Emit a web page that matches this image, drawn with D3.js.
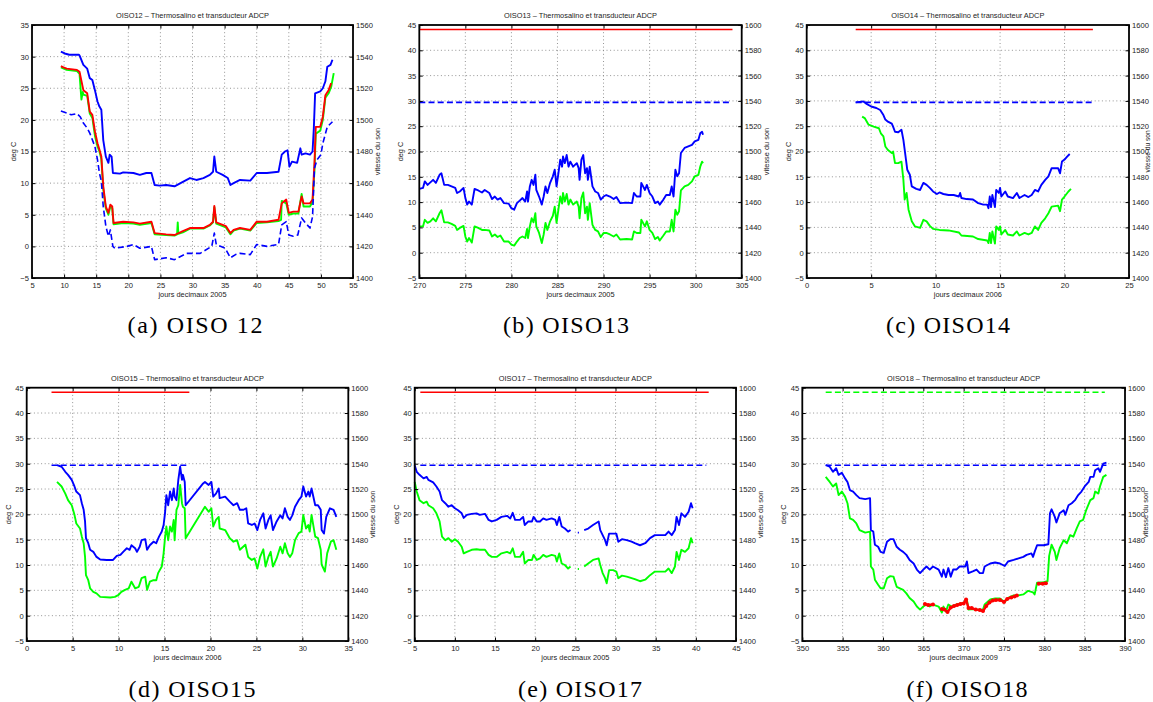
<!DOCTYPE html>
<html><head><meta charset="utf-8">
<script src="https://cdn.jsdelivr.net/npm/d3@7"></script>
<style>
body{margin:0;background:#fff}
svg{display:block}
</style>
</head><body>
<svg id="chart" width="1153" height="702"></svg>
<script>
// ---------------- DATA (deg C vs jours decimaux) ----------------
const panelNames = ["OISO12","OISO13","OISO14","OISO15","OISO17","OISO18"];
const captions = ["(a) OISO 12","(b) OISO13","(c) OISO14","(d) OISO15","(e) OISO17","(f) OISO18"];
const xLabels = ["jours decimaux 2005","jours decimaux 2005","jours decimaux 2006","jours decimaux 2006","jours decimaux 2005","jours decimaux 2009"];
const titleSuffix = " \u2013 Thermosalino et transducteur ADCP";
const yLabelLeft = "deg C";
const yLabelRight = "vitesse du son";

const xTicks12 = [5,10,15,20,25,30,35,40,45,50,55];
const xTicks13 = [270,275,280,285,290,295,300,305];
const xTicks14 = [0,5,10,15,20,25];
const xTicks15 = [0,5,10,15,20,25,30,35];
const xTicks17 = [5,10,15,20,25,30,35,40,45];
const xTicks18 = [350,355,360,365,370,375,380,385,390];
const yTicksShort = [-5,0,5,10,15,20,25,30,35];
const yTicksLong = [-5,0,5,10,15,20,25,30,35,40,45];
const y2TicksShort = [1400,1420,1440,1460,1480,1500,1520,1540,1560];
const y2TicksLong = [1400,1420,1440,1460,1480,1500,1520,1540,1560,1580,1600];

// OISO12
const oiso12_blue = [[9.5,30.8],[10.1,30.5],[10.8,30.3],[12.3,30.3],[12.4,30.2],[13.0,28.7],[13.6,28.1],[14.0,26.6],[14.4,26.3],[14.8,24.7],[15.2,22.9],[15.5,22.1],[15.8,21.6],[16.1,16.8],[16.5,14.2],[16.9,13.2],[17.1,14.5],[17.4,14.2],[17.6,11.6],[18.7,11.5],[19.2,11.7],[20.8,11.6],[21.8,11.3],[22.8,11.6],[23.6,11.6],[24.1,9.7],[24.9,9.6],[25.9,9.7],[27.2,9.5],[28.5,10.2],[29.6,10.8],[30.6,10.5],[31.7,10.8],[32.7,11.3],[33.2,11.8],[33.4,14.2],[33.7,11.8],[34.7,11.3],[35.5,10.8],[35.9,9.7],[36.4,10.0],[37.4,10.5],[39.0,10.4],[40.0,11.6],[41.6,11.6],[43.4,11.8],[43.9,14.5],[44.4,15.0],[44.8,15.2],[45.1,12.6],[45.5,13.4],[46.3,13.2],[46.8,15.5],[47.0,14.5],[47.6,14.7],[48.3,14.5],[48.7,15.0],[48.9,18.7],[49.1,24.2],[49.9,24.5],[50.3,25.0],[50.7,26.1],[51.0,28.4],[51.5,28.7],[51.8,29.5]];
const oiso12_red = [[9.5,28.5],[9.9,28.3],[10.4,28.1],[12.0,27.9],[12.4,27.6],[13.0,24.7],[13.6,24.2],[14.0,21.3],[14.4,20.8],[14.8,18.2],[15.2,16.3],[15.5,15.3],[15.8,14.2],[16.1,9.5],[16.5,6.3],[16.9,5.3],[17.2,6.6],[17.5,6.3],[17.7,3.7],[19.2,3.9],[20.8,3.8],[21.8,3.6],[23.6,3.9],[24.1,2.1],[25.9,1.9],[27.2,1.8],[28.5,2.4],[29.6,2.9],[31.7,2.9],[32.7,3.4],[33.2,3.9],[33.4,6.4],[33.7,3.8],[35.2,3.2],[35.9,2.1],[36.4,2.6],[37.4,2.9],[39.0,2.6],[40.0,3.9],[41.6,3.9],[43.4,4.2],[43.9,6.8],[44.6,7.4],[45.0,5.3],[45.7,5.5],[46.5,5.5],[47.0,7.9],[47.3,6.8],[48.3,6.8],[48.7,7.4],[49.0,13.2],[49.2,18.9],[49.9,18.9],[50.3,20.5],[50.7,23.9],[51.2,24.7],[51.6,25.8]];
const oiso12_green = [[9.5,28.3],[10.4,27.9],[12.0,27.7],[12.4,27.3],[12.7,23.2],[12.9,24.4],[13.0,24.0],[13.6,23.8],[14.0,21.0],[14.4,20.3],[14.8,17.5],[15.2,15.8],[15.5,15.0],[15.8,13.8],[16.1,9.0],[16.5,6.0],[16.9,5.0],[17.2,6.3],[17.5,6.0],[17.7,3.5],[19.2,3.7],[20.8,3.6],[21.8,3.4],[23.6,3.7],[24.1,1.9],[25.9,1.8],[27.2,1.7],[27.6,1.9],[27.7,3.8],[27.8,2.0],[28.5,2.2],[29.6,2.8],[31.7,2.8],[32.7,3.3],[33.2,3.8],[33.4,6.2],[33.7,3.6],[35.2,3.0],[35.9,1.9],[36.4,2.5],[37.4,2.8],[39.0,2.5],[40.0,3.7],[41.6,3.8],[43.4,4.0],[43.8,4.2],[43.9,7.2],[44.6,6.8],[45.0,5.0],[45.7,5.2],[46.5,5.2],[47.0,8.3],[47.3,6.3],[48.3,6.3],[48.7,7.0],[49.0,12.0],[49.2,17.8],[49.9,18.3],[50.3,20.0],[50.7,23.5],[51.2,24.2],[51.6,25.2],[52.0,27.4]];
const oiso12_blueDashed = [[9.5,21.4],[10.4,21.1],[11.1,20.8],[12.0,21.0],[12.5,20.5],[13.0,19.5],[13.6,18.7],[14.0,17.9],[14.8,15.8],[15.2,13.7],[15.5,11.6],[15.8,10.3],[16.1,6.3],[16.5,3.2],[16.9,1.6],[17.2,2.6],[17.6,0.0],[17.9,-0.3],[19.8,0.0],[20.8,0.3],[21.8,-0.3],[23.6,0.0],[24.1,-2.1],[25.9,-1.8],[27.2,-2.1],[29.1,-1.1],[31.2,-1.1],[33.0,0.0],[33.4,2.1],[33.7,0.3],[35.1,-0.3],[35.9,-1.8],[36.7,-1.3],[37.4,-1.1],[39.0,-1.3],[40.0,0.3],[41.6,0.0],[43.4,0.3],[43.9,3.4],[44.6,3.9],[45.0,1.8],[45.7,1.6],[46.4,1.8],[47.0,4.5],[47.6,3.7],[48.3,2.9],[48.7,4.7],[49.0,12.4],[49.4,13.7],[50.0,14.5],[50.3,16.3],[51.0,18.9],[51.8,19.7]];

// OISO13
const oiso13_blue = [[270.0,12.6],[270.4,12.8],[270.6,14.1],[270.9,13.4],[271.2,13.9],[271.5,14.4],[271.8,13.8],[272.2,15.4],[272.4,15.7],[272.7,13.4],[273.1,13.4],[273.5,13.1],[273.9,12.8],[274.1,11.8],[274.4,12.1],[274.8,12.8],[275.0,10.8],[275.2,9.5],[275.4,10.1],[275.7,9.5],[276.0,12.6],[276.4,12.3],[276.8,11.9],[277.1,12.4],[277.6,11.8],[277.9,10.6],[278.2,11.1],[278.5,10.5],[278.8,10.8],[279.2,9.8],[279.7,9.7],[280.0,8.8],[280.3,8.5],[280.6,9.8],[280.9,10.3],[281.2,10.8],[281.5,10.1],[281.7,12.1],[281.8,10.1],[282.0,13.1],[282.2,14.4],[282.4,13.4],[282.6,15.4],[282.7,12.4],[283.0,11.1],[283.3,9.5],[283.5,11.1],[283.7,13.1],[283.9,11.8],[284.2,13.8],[284.5,15.1],[284.7,16.4],[284.9,13.1],[285.1,15.7],[285.3,18.4],[285.5,17.0],[285.6,19.0],[285.8,17.7],[286.0,19.3],[286.2,17.0],[286.4,18.0],[286.7,17.0],[287.1,17.7],[287.3,16.7],[287.4,14.4],[287.6,18.4],[287.8,19.3],[288.0,15.7],[288.2,16.7],[288.3,14.4],[288.5,17.0],[288.8,13.1],[289.1,12.1],[289.4,11.8],[289.7,10.5],[290.0,11.1],[290.3,11.4],[290.7,11.1],[291.1,10.6],[291.4,11.0],[291.8,9.8],[292.5,9.9],[293.1,9.8],[293.3,11.8],[293.6,11.1],[294.0,11.1],[294.1,13.8],[294.5,12.4],[294.7,13.4],[295.0,11.8],[295.3,11.1],[295.6,9.8],[295.9,10.1],[296.1,9.5],[296.5,10.5],[296.8,11.4],[297.2,11.4],[297.4,13.1],[297.6,11.1],[297.8,16.4],[298.0,15.1],[298.2,15.7],[298.4,19.7],[298.8,20.7],[299.2,21.0],[299.6,21.3],[299.9,22.0],[300.3,22.3],[300.5,23.6],[300.7,23.9],[300.8,23.3]];
const oiso13_green = [[270.0,5.2],[270.4,5.2],[270.6,6.5],[270.9,5.9],[271.2,6.2],[271.5,6.8],[271.8,6.2],[272.2,7.8],[272.4,8.4],[272.7,6.0],[273.1,6.0],[273.5,5.7],[273.9,5.3],[274.1,4.5],[274.4,4.9],[274.8,5.3],[275.0,3.2],[275.2,2.2],[275.4,2.9],[275.7,2.0],[276.0,5.2],[276.4,4.9],[276.8,4.5],[277.1,4.5],[277.6,4.4],[277.9,3.2],[278.2,3.6],[278.5,3.1],[278.8,3.4],[279.2,2.2],[279.7,2.2],[280.0,1.6],[280.3,1.4],[280.6,2.2],[280.9,2.9],[281.2,3.2],[281.5,2.9],[281.7,4.7],[281.8,2.9],[282.0,5.2],[282.2,6.8],[282.4,6.0],[282.6,7.8],[282.7,5.2],[283.0,3.9],[283.3,1.9],[283.5,3.6],[283.7,5.9],[283.9,4.5],[284.2,6.2],[284.5,7.3],[284.7,9.1],[284.9,5.9],[285.1,8.5],[285.3,11.1],[285.5,9.7],[285.6,11.8],[285.8,10.1],[286.0,11.6],[286.2,9.5],[286.4,10.5],[286.7,9.5],[287.1,10.1],[287.3,9.1],[287.4,6.8],[287.6,10.8],[287.8,11.9],[288.0,7.8],[288.2,9.1],[288.3,6.5],[288.5,9.8],[288.8,5.5],[289.1,4.5],[289.4,4.2],[289.7,3.1],[290.0,3.9],[290.3,3.9],[290.7,3.6],[291.1,3.2],[291.4,3.6],[291.8,2.6],[292.5,2.7],[293.1,2.6],[293.3,4.2],[293.6,3.9],[294.0,3.9],[294.1,6.5],[294.5,5.2],[294.7,6.2],[295.0,4.5],[295.3,3.9],[295.6,2.7],[295.9,3.1],[296.1,2.4],[296.5,3.4],[296.8,4.2],[297.2,4.2],[297.4,6.5],[297.6,4.2],[297.8,8.5],[298.0,7.5],[298.2,8.2],[298.4,12.3],[298.8,13.1],[299.2,13.4],[299.6,14.1],[299.9,15.1],[300.3,15.4],[300.5,17.0],[300.7,18.0],[300.8,17.7]];
const oiso13_blueDashed = [[270.0,29.7],[303.8,29.7]];
const oiso13_red = [[270.0,44.1],[304.0,44.1]];

// OISO14
const oiso14_blue = [[3.8,29.7],[4.4,29.9],[4.65,29.4],[5.0,28.9],[5.4,28.6],[5.7,28.2],[5.95,27.2],[6.1,26.3],[6.3,25.9],[6.6,25.5],[6.7,24.9],[6.85,23.9],[7.1,23.8],[7.35,24.3],[7.5,22.3],[7.7,18.4],[7.8,16.4],[8.0,15.4],[8.15,13.1],[8.5,12.6],[8.8,12.4],[9.05,13.8],[9.3,13.4],[9.55,12.8],[9.8,12.1],[10.1,11.6],[10.3,11.9],[10.6,11.6],[11.0,11.4],[11.4,11.4],[11.8,11.1],[11.9,11.8],[12.0,10.8],[12.4,10.6],[12.9,10.5],[13.3,9.8],[13.7,9.5],[14.0,9.5],[14.1,8.8],[14.2,11.1],[14.3,9.0],[14.4,11.4],[14.6,9.0],[14.7,12.4],[14.9,11.8],[15.0,12.8],[15.1,11.1],[15.4,12.1],[15.6,11.1],[16.0,10.8],[16.3,11.8],[16.5,10.8],[16.9,11.4],[17.2,11.0],[17.45,11.4],[17.7,12.4],[17.95,12.1],[18.2,13.4],[18.5,14.4],[18.75,15.1],[19.0,16.7],[19.5,16.7],[19.65,15.7],[19.8,18.0],[20.0,18.4],[20.2,19.0],[20.4,19.5]];
const oiso14_green = [[4.3,26.9],[4.5,26.6],[4.8,25.3],[5.2,24.9],[5.6,24.6],[5.75,23.6],[5.95,23.0],[6.1,21.0],[6.3,20.3],[6.6,19.7],[6.7,20.0],[6.85,17.7],[7.1,17.7],[7.35,18.0],[7.5,14.4],[7.6,10.5],[7.75,11.8],[7.9,8.5],[8.15,6.2],[8.4,5.2],[8.8,4.9],[9.05,6.5],[9.3,6.2],[9.55,5.3],[9.8,4.7],[10.3,4.5],[11.0,4.4],[11.8,4.0],[12.0,3.4],[12.9,3.2],[13.3,2.7],[14.0,2.4],[14.1,1.9],[14.2,3.9],[14.3,1.9],[14.4,4.2],[14.6,1.8],[14.7,5.2],[14.9,4.5],[15.0,5.2],[15.1,3.6],[15.4,4.5],[15.6,3.6],[16.0,3.4],[16.3,4.2],[16.5,3.4],[16.9,3.9],[17.2,3.6],[17.45,3.9],[17.7,5.2],[17.95,4.5],[18.2,5.9],[18.5,6.8],[18.75,7.8],[19.0,9.1],[19.5,9.3],[19.65,8.2],[19.8,10.5],[20.0,11.1],[20.3,12.1],[20.5,12.6]];
const oiso14_blueDashed = [[3.8,29.7],[22.1,29.7]];
const oiso14_red = [[3.8,44.1],[22.2,44.1]];

// OISO15
const oiso15_blue = [[3.3,29.7],[3.8,29.4],[4.2,28.4],[4.5,27.8],[4.9,26.8],[5.2,25.5],[5.4,24.5],[5.8,23.8],[6.0,22.2],[6.2,20.9],[6.35,18.6],[6.45,15.3],[6.7,14.3],[6.9,13.0],[7.25,12.6],[7.6,11.6],[8.0,11.1],[8.7,11.0],[9.4,11.0],[9.8,11.8],[10.2,12.0],[10.5,12.6],[10.9,13.3],[11.2,13.0],[11.4,13.9],[11.8,13.3],[12.0,12.6],[12.3,13.6],[12.5,14.9],[12.9,15.1],[13.1,13.0],[13.4,13.9],[13.8,14.6],[14.1,14.3],[14.4,15.6],[14.7,16.6],[14.9,17.9],[15.05,20.2],[15.2,23.8],[15.4,21.8],[15.6,24.5],[15.8,22.8],[16.0,25.1],[16.1,23.5],[16.3,22.8],[16.5,26.8],[16.7,29.4],[16.9,26.8],[17.0,27.8],[17.2,26.4],[17.3,21.8],[19.2,26.1],[19.4,26.4],[19.8,25.8],[20.1,26.4],[20.3,23.5],[20.6,24.1],[20.9,25.1],[21.0,23.2],[21.6,23.5],[22.1,22.5],[22.5,21.8],[22.9,22.2],[23.2,20.9],[23.6,20.9],[23.9,21.2],[24.1,18.2],[24.5,17.9],[24.8,18.2],[25.1,16.9],[25.4,18.9],[25.75,20.2],[26.0,17.2],[26.3,18.9],[26.55,19.8],[26.8,16.9],[27.2,18.6],[27.6,19.8],[27.85,19.2],[28.1,21.2],[28.4,19.5],[28.65,18.9],[28.9,19.8],[29.2,21.5],[29.6,22.8],[29.9,23.5],[30.1,25.5],[30.4,23.5],[30.65,24.5],[30.8,23.5],[31.0,25.1],[31.4,21.8],[31.7,21.8],[32.0,20.9],[32.1,16.9],[32.35,16.2],[32.6,19.5],[33.0,21.2],[33.4,20.9],[33.7,19.5]];
const oiso15_green = [[3.3,26.4],[3.8,25.5],[4.2,24.1],[4.5,22.8],[4.9,21.8],[5.2,19.9],[5.4,18.2],[5.8,17.2],[6.0,15.6],[6.2,14.3],[6.35,11.6],[6.45,8.0],[6.7,7.0],[6.9,5.4],[7.25,4.7],[7.6,4.4],[8.0,3.7],[9.1,3.6],[9.6,3.7],[10.0,4.1],[10.3,4.7],[10.7,5.1],[11.1,5.4],[11.4,6.7],[11.8,5.4],[12.2,5.7],[12.5,7.4],[12.9,7.7],[13.1,5.1],[13.4,6.7],[13.8,7.0],[14.1,7.0],[14.3,8.4],[14.7,9.7],[14.9,12.3],[15.05,15.3],[15.2,17.6],[15.4,14.9],[15.6,17.6],[15.8,16.6],[16.0,18.9],[16.1,14.9],[16.3,20.9],[16.5,21.8],[16.7,25.8],[16.9,22.2],[17.0,21.5],[17.2,21.2],[17.3,15.3],[19.4,21.5],[19.8,20.5],[20.1,21.2],[20.3,17.6],[20.6,18.9],[20.9,19.5],[21.0,17.2],[21.6,16.9],[22.1,15.3],[22.5,14.6],[22.9,14.9],[23.2,13.0],[23.8,14.0],[24.1,11.6],[24.5,11.0],[24.8,11.3],[25.1,9.3],[25.4,11.6],[25.75,13.1],[26.0,9.7],[26.3,11.6],[26.55,12.6],[26.8,9.7],[27.2,11.3],[27.6,13.6],[27.85,12.3],[28.1,14.3],[28.4,12.3],[28.65,11.6],[28.9,12.3],[29.2,14.9],[29.6,16.3],[29.9,16.6],[30.1,19.9],[30.4,17.2],[30.65,17.9],[30.8,16.6],[31.0,19.9],[31.4,15.6],[31.7,15.3],[32.0,13.0],[32.1,10.1],[32.45,8.7],[32.7,12.3],[33.1,14.6],[33.4,14.9],[33.7,13.0]];
const oiso15_blueDashed = [[2.7,29.7],[17.5,29.7]];
const oiso15_red = [[2.7,44.1],[17.7,44.1]];

// OISO17 (null = data gap)
const oiso17_blue = [[5.0,29.7],[5.25,28.4],[5.6,27.8],[6.1,27.1],[6.5,27.4],[6.7,26.8],[7.3,26.3],[7.7,25.5],[8.1,24.5],[8.4,22.8],[8.8,22.2],[9.2,21.5],[9.6,21.8],[10.0,21.2],[10.4,20.8],[10.85,20.2],[11.1,19.3],[11.5,19.9],[12.1,20.1],[12.7,20.2],[13.1,19.9],[13.75,20.1],[14.2,18.9],[14.6,18.6],[15.2,18.9],[15.8,19.5],[16.5,19.7],[16.9,19.2],[17.2,20.3],[17.5,18.9],[18.1,18.9],[18.5,19.5],[18.7,17.9],[19.15,18.6],[19.6,18.6],[19.8,19.5],[20.2,18.6],[20.6,18.6],[21.0,19.2],[21.4,18.9],[22.05,19.2],[22.5,18.9],[22.7,17.9],[23.0,19.5],[23.3,17.6],[23.7,17.2],[24.1,16.6],[24.4,16.9],[24.5,null],[25.3,16.4],[25.45,16.4],[25.6,null],[26.1,16.9],[26.6,17.2],[27.2,17.9],[27.9,18.6],[28.1,16.9],[28.4,15.9],[28.7,14.9],[28.9,13.9],[29.2,16.2],[29.7,16.2],[30.1,16.2],[30.35,14.6],[30.8,15.1],[31.4,14.9],[32.0,14.6],[32.4,14.3],[33.05,13.9],[33.7,14.3],[34.3,15.3],[34.9,15.9],[35.5,15.9],[36.2,15.9],[36.6,16.6],[37.0,15.9],[37.4,16.9],[37.6,19.5],[37.9,17.9],[38.2,20.2],[38.65,19.5],[39.1,20.5],[39.4,22.2],[39.6,21.2]];
const oiso17_green = [[5.0,26.4],[5.25,24.5],[5.6,22.8],[6.1,22.2],[6.5,22.5],[6.7,21.8],[7.3,21.2],[7.7,20.2],[8.1,18.6],[8.4,15.6],[8.8,14.9],[9.2,15.3],[9.6,14.6],[10.0,15.1],[10.4,14.6],[10.85,13.6],[11.1,12.3],[11.5,12.6],[12.1,13.0],[12.7,13.1],[13.1,13.0],[13.75,13.0],[14.2,12.0],[14.6,11.6],[15.2,11.6],[15.8,12.3],[16.5,12.6],[16.9,12.3],[17.2,13.3],[17.5,11.6],[18.1,11.6],[18.5,12.6],[18.7,10.3],[19.15,11.0],[19.6,11.0],[19.8,12.0],[20.2,11.0],[20.6,11.3],[21.0,12.0],[21.4,11.6],[22.05,12.0],[22.5,11.8],[22.7,10.7],[23.0,12.3],[23.3,10.3],[23.7,10.0],[24.1,9.3],[24.4,9.7],[24.5,null],[25.3,9.2],[25.45,9.2],[25.6,null],[26.1,9.7],[26.6,10.3],[27.2,11.0],[27.9,11.3],[28.1,10.0],[28.4,8.4],[28.7,7.4],[28.9,6.4],[29.2,9.0],[29.7,9.0],[30.1,8.7],[30.35,7.4],[30.8,7.9],[31.4,7.7],[32.0,7.4],[32.4,7.2],[33.05,6.8],[33.7,7.1],[34.3,8.0],[34.9,8.7],[35.5,8.7],[36.2,8.7],[36.6,9.3],[37.0,8.4],[37.4,9.7],[37.6,12.6],[37.9,11.0],[38.2,13.0],[38.65,12.6],[39.1,13.3],[39.4,15.3],[39.6,14.3]];
const oiso17_blueDashed = [[5.7,29.7],[41.3,29.7]];
const oiso17_red = [[5.7,44.1],[41.6,44.1]];

// OISO18
const oiso18_blue = [[352.9,29.7],[353.4,29.4],[353.8,28.4],[354.2,29.1],[354.5,27.8],[354.9,28.2],[355.3,27.1],[355.6,26.4],[355.9,24.8],[356.3,24.5],[356.7,23.8],[357.1,23.2],[357.8,23.0],[358.4,23.2],[358.5,16.9],[358.8,16.6],[359.0,14.0],[359.4,13.6],[359.7,12.6],[360.1,12.4],[360.5,14.6],[360.9,15.1],[361.3,15.1],[361.7,13.6],[362.1,13.0],[362.5,12.6],[362.9,12.0],[363.3,11.0],[363.8,10.3],[364.2,9.1],[364.6,8.4],[365.0,9.1],[365.4,9.7],[365.8,9.1],[366.2,9.7],[366.9,9.1],[367.3,7.7],[367.5,9.1],[367.8,7.6],[368.1,9.4],[368.4,7.7],[368.7,9.1],[369.1,9.1],[369.5,9.7],[370.2,9.7],[370.4,10.7],[370.6,8.4],[371.2,8.8],[371.6,9.1],[372.0,8.4],[372.4,8.4],[372.6,9.7],[373.3,10.3],[373.9,10.5],[374.5,10.3],[375.1,9.8],[375.5,10.7],[376.2,11.0],[376.8,11.3],[377.4,11.6],[377.8,12.0],[378.4,12.3],[378.6,11.6],[378.8,12.6],[379.1,13.9],[379.9,13.9],[380.5,14.1],[380.7,20.2],[380.9,21.0],[381.3,19.5],[381.5,18.4],[381.9,20.2],[382.4,20.8],[382.6,19.9],[383.0,21.8],[383.4,22.2],[383.8,22.8],[384.2,23.8],[384.6,24.5],[385.0,25.5],[385.5,26.4],[385.7,27.4],[386.1,27.4],[386.3,28.7],[386.7,29.1],[386.9,28.4],[387.3,30.0],[387.7,30.2]];
const oiso18_green = [[352.9,27.4],[353.4,26.4],[353.8,25.5],[354.2,26.1],[354.5,23.8],[354.9,24.5],[355.3,23.5],[355.6,22.2],[355.9,19.2],[356.3,18.9],[356.7,18.2],[357.1,16.9],[357.8,16.4],[358.4,16.6],[358.5,9.7],[358.8,9.1],[359.0,7.1],[359.4,6.1],[359.7,5.4],[360.1,5.4],[360.5,7.4],[360.9,7.8],[361.3,7.7],[361.7,5.7],[362.1,5.4],[362.5,5.1],[362.9,4.4],[363.3,3.5],[363.8,2.8],[364.2,1.8],[364.6,1.2],[365.0,1.8],[365.4,2.2],[365.8,1.8],[366.2,2.2],[366.9,1.8],[367.3,0.6],[367.5,1.8],[367.8,0.8],[368.1,2.2],[368.5,1.8],[369.1,2.2],[370.0,2.5],[370.4,3.2],[370.6,1.2],[371.2,1.3],[371.8,1.2],[372.4,1.2],[372.6,2.2],[373.3,3.2],[373.9,3.4],[374.5,3.4],[375.1,2.7],[375.5,3.5],[376.2,4.0],[376.8,4.0],[377.4,4.2],[378.0,4.9],[378.6,4.6],[378.8,4.2],[379.1,6.5],[379.9,6.6],[380.4,6.8],[380.6,11.8],[380.9,14.0],[381.3,12.6],[381.5,11.0],[381.9,13.3],[382.4,14.9],[382.8,14.3],[383.2,15.9],[383.6,15.6],[384.0,17.2],[384.4,18.6],[384.8,18.9],[385.2,20.9],[385.7,22.8],[386.1,23.2],[386.3,24.5],[386.7,24.1],[386.9,25.5],[387.3,27.4],[387.7,27.8]];
const oiso18_red = [[365.2,2.3],[365.6,2.1],[366.2,2.2],[366.4,null],[367.3,1.3],[367.6,1.2],[368.0,0.7],[368.4,1.6],[368.8,1.9],[369.2,2.1],[369.6,2.3],[370.0,2.4],[370.3,3.2],[370.6,1.5],[371.0,1.5],[371.5,1.2],[372.0,1.1],[372.4,0.9],[372.8,1.9],[373.2,2.6],[373.6,3.0],[374.0,3.1],[374.5,3.1],[375.0,2.7],[375.4,3.3],[375.9,3.6],[376.3,3.8],[376.6,4.0],[376.8,null],[379.3,6.3],[379.8,6.3],[380.2,6.4]];
const oiso18_blueDashed = [[352.9,29.7],[387.7,29.7]];
const oiso18_greenDashed = [[352.9,44.1],[387.5,44.1]];

// ---------------- LAYOUT / STYLE ----------------
const BLUE = "#0000ff", GREEN = "#00ff00", RED = "#ff0000";
const FONT = "'Liberation Sans', Arial, sans-serif";
const SERIF = "'Liberation Serif', 'DejaVu Serif', serif";
const panels = [
  {i:0, box:{left:32, right:353, top:25, bottom:278}, xDom:[5,55], xt:xTicks12, yDom:[-5,35], yt:yTicksShort, y2Dom:[1400,1560], y2t:y2TicksShort, cap:[195,333], capW:135, rLab:27, rFs:7.4,
   series:[{d:oiso12_green,c:GREEN},{d:oiso12_red,c:RED},{d:oiso12_blue,c:BLUE},{d:oiso12_blueDashed,c:BLUE,dash:true}]},
  {i:1, box:{left:419.3, right:741.7, top:25, bottom:278}, xDom:[270,305], xt:xTicks13, yDom:[-5,45], yt:yTicksLong, y2Dom:[1400,1600], y2t:y2TicksLong, cap:[566,333], capW:126, rLab:27, rFs:7.4,
   series:[{d:oiso13_green,c:GREEN},{d:oiso13_blue,c:BLUE},{d:oiso13_blueDashed,c:BLUE,dash:true},{d:oiso13_red,c:RED,thin:true}]},
  {i:2, box:{left:806.7, right:1129, top:25, bottom:278}, xDom:[0,25], xt:xTicks14, yDom:[-5,45], yt:yTicksLong, y2Dom:[1400,1600], y2t:y2TicksLong, cap:[948,333], capW:124, rLab:21.3, rFs:6.6,
   series:[{d:oiso14_green,c:GREEN},{d:oiso14_blue,c:BLUE},{d:oiso14_blueDashed,c:BLUE,dash:true},{d:oiso14_red,c:RED,thin:true}]},
  {i:3, box:{left:26.7, right:348.3, top:387.7, bottom:641}, xDom:[0,35], xt:xTicks15, yDom:[-5,45], yt:yTicksLong, y2Dom:[1400,1600], y2t:y2TicksLong, cap:[192,697], capW:127, rLab:27, rFs:7.4,
   series:[{d:oiso15_green,c:GREEN},{d:oiso15_blue,c:BLUE},{d:oiso15_blueDashed,c:BLUE,dash:true},{d:oiso15_red,c:RED,thin:true}]},
  {i:4, box:{left:414.7, right:736, top:387.7, bottom:641}, xDom:[5,45], xt:xTicks17, yDom:[-5,45], yt:yTicksLong, y2Dom:[1400,1600], y2t:y2TicksLong, cap:[580,697], capW:124, rLab:27, rFs:7.4,
   series:[{d:oiso17_green,c:GREEN},{d:oiso17_blue,c:BLUE},{d:oiso17_blueDashed,c:BLUE,dash:true},{d:oiso17_red,c:RED,thin:true}]},
  {i:5, box:{left:802.3, right:1125, top:387.7, bottom:641}, xDom:[350,390], xt:xTicks18, yDom:[-5,45], yt:yTicksLong, y2Dom:[1400,1600], y2t:y2TicksLong, cap:[967,697], capW:121, rLab:23, rFs:7.4,
   series:[{d:oiso18_green,c:GREEN},{d:oiso18_red,c:RED,dots:true},{d:oiso18_blue,c:BLUE},{d:oiso18_blueDashed,c:BLUE,dash:true},{d:oiso18_greenDashed,c:GREEN,dash:true}]}
];

const svg = d3.select("#chart");
svg.append("rect").attr("width",1153).attr("height",702).attr("fill","#fff");

panels.forEach(p => {
  const B = p.box;
  const x = d3.scaleLinear().domain(p.xDom).range([B.left, B.right]);
  const y = d3.scaleLinear().domain(p.yDom).range([B.bottom, B.top]);
  const y2 = d3.scaleLinear().domain(p.y2Dom).range([B.bottom, B.top]);
  const g = svg.append("g");

  // grid
  const grid = g.append("g").attr("stroke","#7a7a7a").attr("stroke-width",0.8).attr("stroke-dasharray","1,2.6");
  p.xt.slice(1,-1).forEach(v => grid.append("line").attr("x1",x(v)).attr("x2",x(v)).attr("y1",B.top).attr("y2",B.bottom));
  p.yt.slice(1,-1).forEach(v => grid.append("line").attr("x1",B.left).attr("x2",B.right).attr("y1",y(v)).attr("y2",y(v)));

  // series
  const line = d3.line().defined(d => d[1] !== null).x(d => x(d[0])).y(d => y(d[1]));
  p.series.forEach(s => {
    const path = g.append("path").datum(s.d).attr("d", line).attr("fill","none").attr("stroke", s.c)
      .attr("stroke-linejoin","round").attr("stroke-width", s.dash ? 1.6 : (s.dots ? 2.4 : (s.thin ? 1.5 : 1.9)));
    if (s.dash) path.attr("stroke-dasharray","6,3.2");
    if (s.dots) {
      g.append("g").selectAll("circle").data(s.d.filter(d => d[1] !== null)).join("circle")
        .attr("cx", d => x(d[0])).attr("cy", d => y(d[1])).attr("r", 2).attr("fill", s.c);
    }
  });

  // axes (inward ticks)
  const styleAxis = sel => {
    sel.select(".domain").remove();
    sel.selectAll("line").attr("stroke","#000").attr("stroke-width",1);
    sel.selectAll("text").attr("font-family",FONT).attr("font-size","7.6px").attr("fill","#222");
  };
  g.append("g").attr("transform",`translate(0,${B.bottom})`)
    .call(d3.axisBottom(x).tickValues(p.xt).tickSize(-3.5).tickPadding(4.5).tickFormat(d3.format("d"))).call(styleAxis);
  g.append("g").attr("transform",`translate(0,${B.top})`)
    .call(d3.axisTop(x).tickValues(p.xt).tickSize(-3.5).tickFormat("")).call(styleAxis);
  g.append("g").attr("transform",`translate(${B.left},0)`)
    .call(d3.axisLeft(y).tickValues(p.yt).tickSize(-3.5).tickPadding(3).tickFormat(d3.format("d"))).call(styleAxis);
  g.append("g").attr("transform",`translate(${B.right},0)`)
    .call(d3.axisRight(y2).tickValues(p.y2t).tickSize(-3.5).tickPadding(3).tickFormat(d3.format("d"))).call(styleAxis);

  // box
  g.append("rect").attr("x",B.left).attr("y",B.top).attr("width",B.right-B.left).attr("height",B.bottom-B.top)
    .attr("fill","none").attr("stroke","#000").attr("stroke-width",1.8);

  const midX = (B.left + B.right) / 2, midY = (B.top + B.bottom) / 2;
  g.append("text").attr("x",midX).attr("y",B.top-7).attr("text-anchor","middle")
    .attr("font-family",FONT).attr("font-size","7.4px").attr("fill","#222").text(panelNames[p.i] + titleSuffix);
  g.append("text").attr("x",midX).attr("y",B.bottom+18.5).attr("text-anchor","middle")
    .attr("font-family",FONT).attr("font-size","7.4px").attr("fill","#222").text(xLabels[p.i]);
  g.append("text").attr("transform",`translate(${B.left-16},${midY}) rotate(-90)`).attr("text-anchor","middle")
    .attr("font-family",FONT).attr("font-size","7.4px").attr("fill","#222").text(yLabelLeft);
  g.append("text").attr("transform",`translate(${B.right+p.rLab},${midY}) rotate(-90)`).attr("text-anchor","middle")
    .attr("font-family",FONT).attr("font-size",p.rFs+"px").attr("fill","#222").text(yLabelRight);

  // caption
  svg.append("text").attr("x",p.cap[0]).attr("y",p.cap[1]).attr("text-anchor","middle")
    .attr("font-family",SERIF).attr("font-size","24px").attr("fill","#000")
    .attr("textLength",p.capW).attr("lengthAdjust","spacing")
    .text(captions[p.i]);
});
</script>
</body></html>
